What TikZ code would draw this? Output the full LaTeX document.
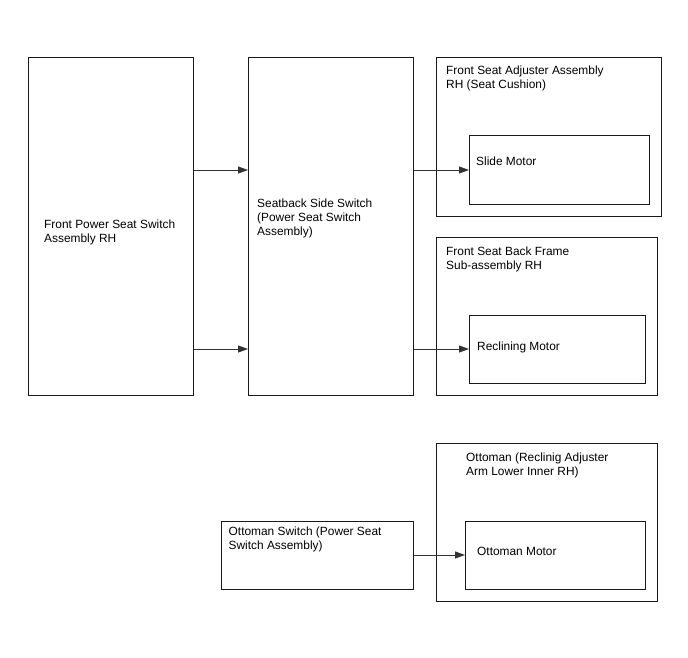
\documentclass[tikz,border=0pt]{standalone}
\usepackage{fontspec}
\setmainfont{Liberation Sans}
\usetikzlibrary{arrows.meta}

\begin{document}
\begin{tikzpicture}[x=1pt, y=-1pt,
    blk/.style={rectangle, draw=black!90, line width=1.3pt, inner sep=0pt, anchor=north west},
    txt/.style={anchor=north west, inner sep=0pt, align=left, font=\fontsize{11.9}{14}\selectfont},
    arr/.style={-{Triangle[length=10pt, width=7pt]}, line width=0.9pt, draw=black!80}
]
\useasboundingbox (0,0) rectangle (688,658);
\fill[white] (0,0) rectangle (688,658);

% switches
\node[blk, minimum width=165pt, minimum height=338pt] (fp) at (28,57) {};
\node[blk, minimum width=165pt, minimum height=338pt] (ss) at (248,57) {};
\node[blk, minimum width=192pt, minimum height=68pt] (osw) at (221,521) {};

% seat assemblies
\node[blk, minimum width=225pt, minimum height=159pt] (adj) at (436,57) {};
\node[blk, minimum width=221pt, minimum height=158pt] (back) at (436,237) {};
\node[blk, minimum width=221pt, minimum height=158pt] (ott) at (436,443) {};

% motors
\node[blk, minimum width=180pt, minimum height=69pt] (slide) at (469,135) {};
\node[blk, minimum width=176pt, minimum height=68pt] (recl) at (469,315) {};
\node[blk, minimum width=180pt, minimum height=68pt] (ottm) at (465,521) {};

% labels
\node[txt] (fp-l) at (44,219.3) {Front Power Seat Switch\\Assembly RH};
\node[txt] (ss-l) at (257,198.3) {Seatback Side Switch\\(Power Seat Switch\\Assembly)};
\node[txt] (osw-l) at (228.5,527) {Ottoman Switch (Power Seat\\Switch Assembly)};
\node[txt] (adj-l) at (446,65.3) {Front Seat Adjuster Assembly\\RH (Seat Cushion)};
\node[txt] (back-l) at (446,246.3) {Front Seat Back Frame\\Sub-assembly RH};
\node[txt] (ott-l) at (466,452.3) {Ottoman (Reclinig Adjuster\\Arm Lower Inner RH)};
\node[txt] (slide-l) at (476,156.3) {Slide Motor};
\node[txt] (recl-l) at (477,341.3) {Reclining Motor};
\node[txt] (ottm-l) at (477,547.3) {Ottoman Motor};

% connections
\coordinate (row1) at (0,170);
\coordinate (row2) at (0,349);
\coordinate (row3) at (0,555);
\draw[arr] (fp.east |- row1) -- (ss.west |- row1);
\draw[arr] (fp.east |- row2) -- (ss.west |- row2);
\draw[arr] (ss.east |- row1) -- (slide.west |- row1);
\draw[arr] (ss.east |- row2) -- (recl.west |- row2);
\draw[arr] (osw.east |- row3) -- (ottm.west |- row3);
\end{tikzpicture}
\end{document}
